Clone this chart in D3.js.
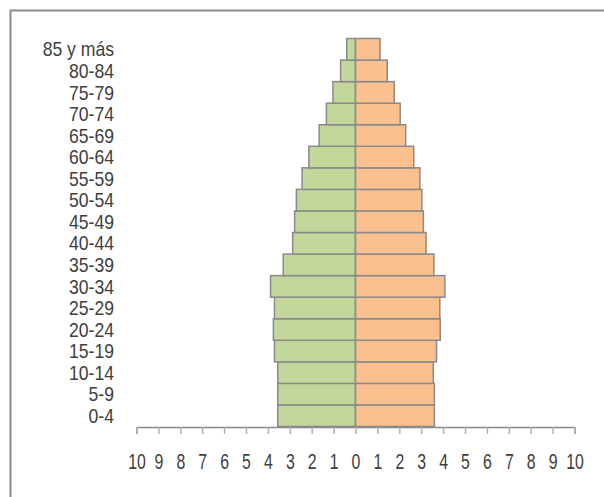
<!DOCTYPE html>
<html>
<head>
<meta charset="utf-8">
<script src="https://cdn.jsdelivr.net/npm/d3@7"></script>
<style>
  body { margin: 0; background: #fff; }
  svg text { font-family: "Liberation Sans", Arial, sans-serif; fill: #404040; }
</style>
</head>
<body>
<svg id="pyramid-chart" width="604" height="497"></svg>
<script>
// Age groups, bottom to top
const ageGroups = ["0-4", "5-9", "10-14", "15-19", "20-24", "25-29", "30-34", "35-39", "40-44",
  "45-49", "50-54", "55-59", "60-64", "65-69", "70-74", "75-79", "80-84", "85 y más"];

// Left side (green) percentages
const leftValues = [3.55, 3.55, 3.55, 3.7, 3.75, 3.7, 3.88, 3.3, 2.87, 2.78, 2.7, 2.44, 2.13, 1.66, 1.33, 1.03, 0.68, 0.4];

// Right side (orange) percentages
const rightValues = [3.6, 3.6, 3.55, 3.7, 3.87, 3.85, 4.08, 3.58, 3.22, 3.1, 3.03, 2.94, 2.66, 2.29, 2.04, 1.77, 1.45, 1.12];

// X axis ticks
const xTicks = d3.range(-10, 11, 1);

const svg = d3.select('#pyramid-chart');

// Outer frame (runs off the right and bottom edge)
svg.append("rect")
  .attr("x", 10.5)
  .attr("y", 10.5)
  .attr("width", 640)
  .attr("height", 540)
  .attr("fill", "none")
  .attr("stroke", "#8c8c8c")
  .attr("stroke-width", 2);

// Scales
const xScale = d3.scaleLinear()
  .domain([-10, 10])
  .range([136.5, 574.5]);

const yScale = d3.scaleBand()
  .domain(ageGroups.slice().reverse())
  .range([38.5, 426.5])
  .padding(0);

// Left bars
svg.selectAll("rect.left")
  .data(ageGroups)
  .enter()
  .append("rect")
  .attr("class", "left")
  .attr("x", (d, i) => xScale(-leftValues[i]))
  .attr("y", d => yScale(d))
  .attr("width", (d, i) => xScale(0) - xScale(-leftValues[i]))
  .attr("height", yScale.bandwidth())
  .attr("fill", "#c4d79b")
  .attr("stroke", "#8a8a8a")
  .attr("stroke-width", 1.5);

// Right bars
svg.selectAll("rect.right")
  .data(ageGroups)
  .enter()
  .append("rect")
  .attr("class", "right")
  .attr("x", xScale(0))
  .attr("y", d => yScale(d))
  .attr("width", (d, i) => xScale(rightValues[i]) - xScale(0))
  .attr("height", yScale.bandwidth())
  .attr("fill", "#fac090")
  .attr("stroke", "#8a8a8a")
  .attr("stroke-width", 1.5);

// X axis
const xAxis = svg.append("g")
  .attr("transform", "translate(0,427)")
  .call(d3.axisBottom(xScale)
    .tickValues(xTicks)
    .tickSize(7)
    .tickPadding(19)
    .tickFormat(d => Math.abs(d)));

xAxis.select(".domain").attr("stroke", "#868686").attr("stroke-width", 1.5);
xAxis.selectAll(".tick line").attr("stroke", "#b0b0b0").attr("stroke-width", 1.5);
xAxis.selectAll(".tick text")
  .attr("font-size", 22)
  .attr("transform", "scale(0.72,1)")
  .attr("fill", "#454545");

// Y labels
svg.append("g")
  .selectAll("text")
  .data(ageGroups)
  .enter()
  .append("text")
  .attr("transform", d => "translate(114," + (yScale(d) + yScale.bandwidth() / 2) + ") scale(0.88,1)")
  .attr("dy", "0.36em")
  .attr("text-anchor", "end")
  .attr("font-size", 20)
  .attr("fill", "#454545")
  .text(d => d);
</script>
</body>
</html>
